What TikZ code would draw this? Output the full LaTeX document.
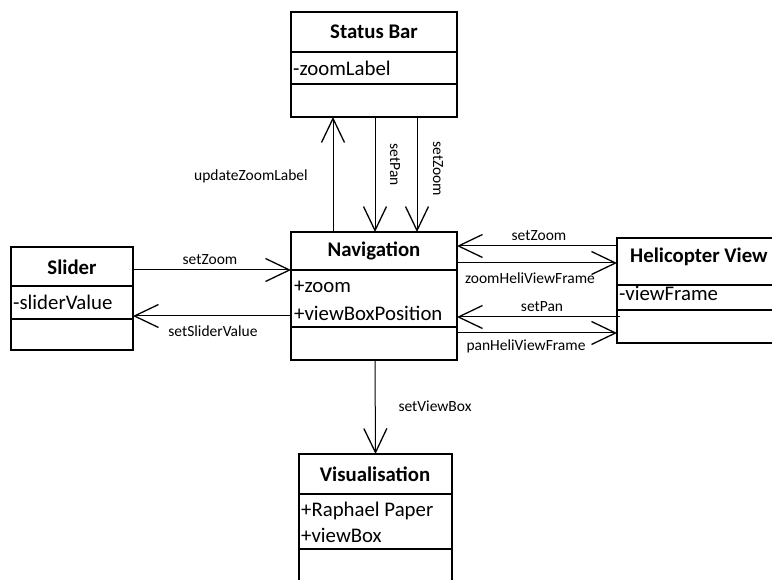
\documentclass[tikz,border=0pt]{standalone}
\usepackage{fontspec}
\setmainfont{Carlito}
\usetikzlibrary{arrows.meta,calc}

\tikzset{
  classbox/.style={draw, line width=1.8pt, inner sep=0pt, outer sep=0pt, anchor=north west},
  divider/.style={line width=1.8pt},
  classtitle/.style={font=\fontsize{20.8}{24}\selectfont\bfseries, inner sep=0pt},
  attr/.style={font=\fontsize{20.8}{24}\selectfont, inner sep=0pt, anchor=west},
  msg/.style={font=\fontsize{15.5}{18}\selectfont, inner sep=0pt},
  call/.style={line width=1pt, -{Straight Barb[length=24pt,width=23pt,line width=1.3pt]}},
}

\begin{document}
\begin{tikzpicture}[x=1pt,y=-1pt]
\useasboundingbox (0,0) rectangle (772,580);
\clip (0,0) rectangle (772,580);
\fill[white] (0,0) rectangle (772,580);

% Status Bar
\node[classbox, minimum width=166pt, minimum height=105pt] (sb) at (291,12) {};
\draw[divider] (291,52) -- (457,52);
\draw[divider] (291,84) -- (457,84);
\node[classtitle] (sbt) at (374,32) {Status Bar};
\node[attr] (sba) at (293,68) {-zoomLabel};

% Slider
\node[classbox, minimum width=122pt, minimum height=103pt] (sl) at (11,247) {};
\draw[divider] (11,286) -- (133,286);
\draw[divider] (11,319) -- (133,319);
\node[classtitle] (slt) at (72,267) {Slider};
\node[attr] (sla) at (13,302) {-sliderValue};

% Navigation
\node[classbox, minimum width=166pt, minimum height=128pt] (nav) at (291,232) {};
\draw[divider] (291,270) -- (457,270);
\draw[divider] (291,327) -- (457,327);
\node[classtitle] (navt) at (374,251) {Navigation};
\node[attr] (nava) at (294,287) {+zoom};
\node[attr] (navb) at (294,313) {+viewBoxPosition};

% Helicopter View
\node[classbox, minimum width=164pt, minimum height=105pt] (heli) at (617,238) {};
\draw[divider] (617,285) -- (781,285);
\draw[divider] (617,310) -- (781,310);
\node[classtitle, anchor=west] (helit) at (630,257) {Helicopter View};
\node[attr] (helia) at (619,293) {-viewFrame};

% Visualisation
\node[classbox, minimum width=153pt, minimum height=150pt] (vis) at (299,454) {};
\draw[divider] (299,494) -- (452,494);
\draw[divider] (299,549) -- (452,549);
\node[classtitle] (vist) at (375,474) {Visualisation};
\node[attr] (visa) at (301,511) {+Raphael Paper};
\node[attr] (visb) at (301,535) {+viewBox};

% Calls between Navigation and Status Bar
\draw[call] ([xshift=-41pt]nav.north) -- ([xshift=-41pt]sb.south);
\draw[call] ([xshift=1pt]sb.south) -- ([xshift=1pt]nav.north);
\draw[call] ([xshift=43pt]sb.south) -- ([xshift=43pt]nav.north);
\node[msg] (m1) at (251,176) {updateZoomLabel};
\node[msg, rotate=-90] (m2) at (395,165) {setPan};
\node[msg, rotate=-90] (m3) at (438,169) {setZoom};

% Calls between Slider and Navigation
\draw[call] ([yshift=-23pt]sl.north east) -- ([yshift=-38pt]nav.north west);
\draw[call] ([yshift=-84pt]nav.north west) -- ([yshift=-69pt]sl.north east);
\node[msg] (m4) at (210,260) {setZoom};
\node[msg] (m5) at (213,331) {setSliderValue};

% Calls between Helicopter View and Navigation
\draw[call] ([yshift=-8pt]heli.north west) -- ([yshift=-14pt]nav.north east);
\draw[call] ([yshift=-31pt]nav.north east) -- ([yshift=-25pt]heli.north west);
\draw[call] ([xshift=3pt,yshift=-79pt]heli.north west) -- ([yshift=-85pt]nav.north east);
\draw[call] ([yshift=-101pt]nav.north east) -- ([yshift=-95pt]heli.north west);
\node[msg] (m6) at (539,236) {setZoom};
\node[msg] (m7) at (530,278) {zoomHeliViewFrame};
\node[msg] (m8) at (542,307) {setPan};
\node[msg] (m9) at (526,346) {panHeliViewFrame};

% Call from Navigation to Visualisation
\draw[call] ([xshift=1pt]nav.south) -- (vis.north);
\node[msg] (m10) at (435,406) {setViewBox};

\end{tikzpicture}
\end{document}
